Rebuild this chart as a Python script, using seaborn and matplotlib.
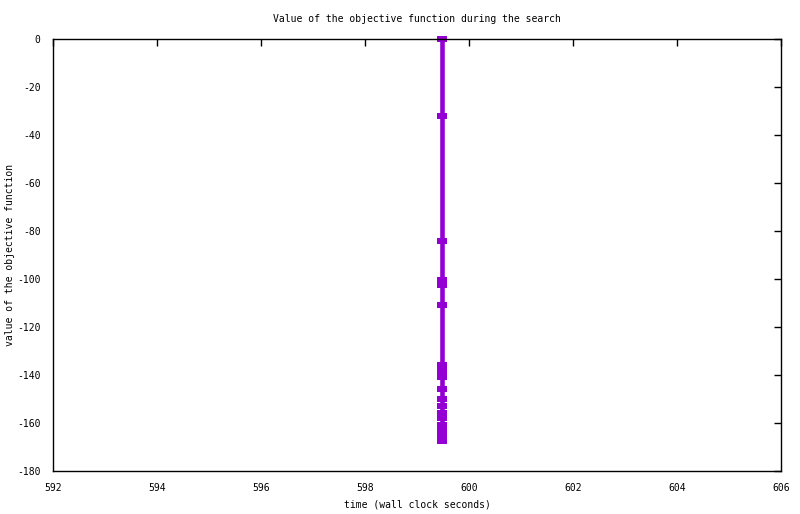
import numpy as np
import pandas as pd
import matplotlib
matplotlib.use("Agg")
import matplotlib.pyplot as plt
import seaborn as sns

# objective values
objective = [0, -32, -84, -100.5, -102.5, -111, -136, -138.5, -141, -146,
             -150, -153, -156, -158, -161, -163.5, -165.5, -167.5]
times = [599.48] * len(objective)
x_ticks = [592, 594, 596, 598, 600, 602, 604, 606]
y_ticks = [0, -20, -40, -60, -80, -100, -120, -140, -160, -180]

df = pd.DataFrame({"time": times, "objective": objective})

sns.set_style("white")
plt.rcParams['font.family'] = ['DejaVu Sans Mono']
plt.rcParams['font.size'] = 7
plt.rcParams['text.color'] = "black"
plt.rcParams['axes.labelcolor'] = "black"

fig = plt.figure(figsize=(8, 5.14), dpi=100)
ax = fig.add_axes([0.06625, 0.0837, 0.91, 0.8403])

# wide flat box, like gnuplot's points
box = [(-1, -0.55), (1, -0.55), (1, 0.55), (-1, 0.55), (-1, -0.55)]
sns.lineplot(data=df, x="time", y="objective", ax=ax, sort=False,
             color="#9400d3", linewidth=3.3, marker=box, markersize=7.5,
             markeredgewidth=0, estimator=None, solid_capstyle="projecting",
             clip_on=False)

ax.set_xlim(592, 606)
ax.set_ylim(-180, 0)
ax.set_xticks(x_ticks)
ax.set_yticks(y_ticks)
ax.set_xticklabels([str(t) for t in x_ticks])
ax.set_yticklabels([str(t) for t in y_ticks])
ax.tick_params(direction="in", length=5, width=1, top=True, right=True,
               labelsize=7, colors="black")
ax.tick_params(axis="y", pad=9)
ax.tick_params(axis="x", pad=9)
for s in ax.spines.values():
    s.set_color("black")
    s.set_linewidth(1)
    s.set_visible(True)

ax.set_title("Value of the objective function during the search", fontsize=7, pad=12,
             color="black")
ax.set_xlabel("time (wall clock seconds)", fontsize=7, labelpad=4)
ax.set_ylabel("value of the objective function", fontsize=7)
ax.yaxis.set_label_coords(-0.052, 0.5)

fig.savefig("out.png", dpi=100)
